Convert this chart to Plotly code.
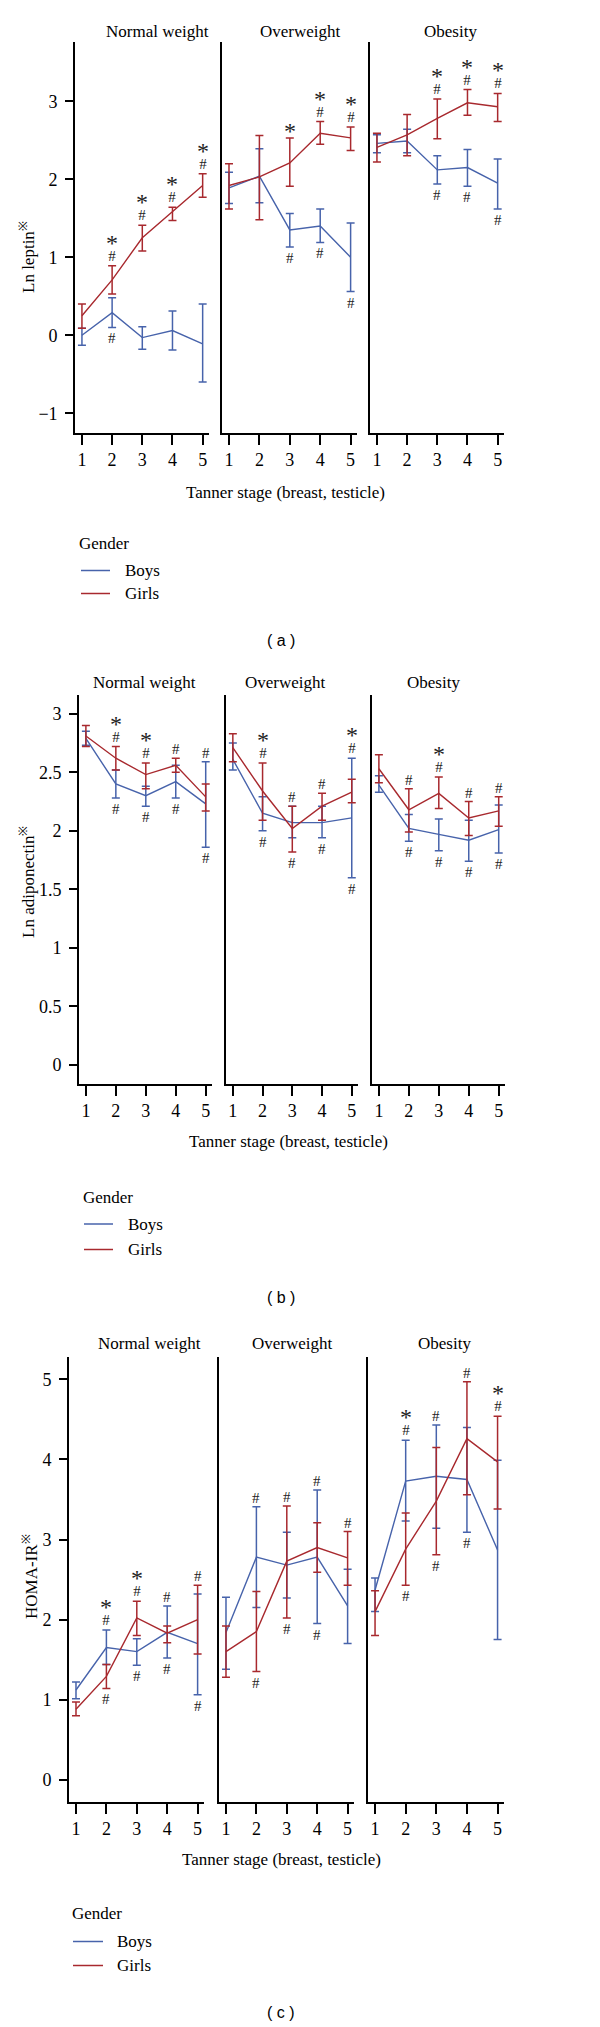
import plotly.graph_objects as go

# ---------------- data ----------------
STAGES = [1, 2, 3, 4, 5]
GROUPS = ["Normal weight", "Overweight", "Obesity"]
GENDERS = ["Boys", "Girls"]

# (a) Ln leptin: means and CI bounds, one list per weight group
leptin_boys = [[0.00, 0.29, -0.03, 0.06, -0.11], [1.89, 2.04, 1.35, 1.40, 1.00], [2.46, 2.49, 2.12, 2.15, 1.95]]
leptin_boys_hi = [[0.09, 0.48, 0.11, 0.31, 0.40], [2.09, 2.39, 1.56, 1.62, 1.44], [2.57, 2.64, 2.30, 2.38, 2.26]]
leptin_boys_lo = [[-0.13, 0.10, -0.18, -0.19, -0.60], [1.69, 1.70, 1.13, 1.19, 0.56], [2.34, 2.34, 1.94, 1.91, 1.62]]
leptin_girls = [[0.25, 0.71, 1.25, 1.58, 1.92], [1.92, 2.03, 2.21, 2.59, 2.53], [2.41, 2.57, 2.78, 2.98, 2.93]]
leptin_girls_hi = [[0.40, 0.89, 1.41, 1.64, 2.07], [2.20, 2.56, 2.53, 2.74, 2.67], [2.59, 2.83, 3.03, 3.15, 3.10]]
leptin_girls_lo = [[0.09, 0.53, 1.08, 1.47, 1.77], [1.62, 1.48, 1.91, 2.45, 2.37], [2.22, 2.30, 2.52, 2.82, 2.74]]
leptin_sig_above = [["", "#*", "#*", "#*", "#*"], ["", "", "*", "#*", "#*"], ["", "", "#*", "#*", "#*"]]
leptin_sig_below = [["", "#", "", "", ""], ["", "", "#", "#", "#"], ["", "", "#", "#", "#"]]

# (b) Ln adiponectin
adipo_boys = [[2.79, 2.40, 2.30, 2.42, 2.23], [2.61, 2.15, 2.07, 2.07, 2.11], [2.39, 2.02, 1.97, 1.92, 2.01]]
adipo_boys_hi = [[2.85, 2.52, 2.38, 2.56, 2.59], [2.75, 2.29, 2.21, 2.21, 2.62], [2.47, 2.14, 2.10, 2.09, 2.22]]
adipo_boys_lo = [[2.73, 2.28, 2.21, 2.28, 1.86], [2.52, 2.00, 1.94, 1.94, 1.60], [2.33, 1.91, 1.83, 1.74, 1.81]]
adipo_girls = [[2.81, 2.62, 2.48, 2.56, 2.29], [2.71, 2.34, 2.02, 2.21, 2.33], [2.53, 2.18, 2.32, 2.11, 2.17]]
adipo_girls_hi = [[2.90, 2.72, 2.58, 2.62, 2.40], [2.83, 2.58, 2.21, 2.32, 2.44], [2.65, 2.36, 2.46, 2.25, 2.29]]
adipo_girls_lo = [[2.72, 2.52, 2.36, 2.50, 2.17], [2.59, 2.09, 1.82, 2.09, 2.24], [2.41, 1.99, 2.19, 1.96, 2.04]]
adipo_sig_above = [["", "#*", "#*", "#", "#"], ["", "#*", "#", "#", "#*"], ["", "#", "#*", "#", "#"]]
adipo_sig_below = [["", "#", "#", "#", "#"], ["", "#", "#", "#", "#"], ["", "#", "#", "#", "#"]]

# (c) HOMA-IR
homa_boys = [[1.12, 1.65, 1.60, 1.84, 1.70], [1.84, 2.78, 2.68, 2.78, 2.17], [2.37, 3.73, 3.79, 3.75, 2.87]]
homa_boys_hi = [[1.22, 1.87, 1.76, 2.17, 2.32], [2.28, 3.41, 3.09, 3.62, 2.63], [2.52, 4.24, 4.43, 4.40, 3.99]]
homa_boys_lo = [[1.01, 1.44, 1.43, 1.52, 1.06], [1.38, 2.15, 2.27, 1.95, 1.70], [2.10, 3.23, 3.14, 3.09, 1.75]]
homa_girls = [[0.88, 1.29, 2.02, 1.83, 2.00], [1.60, 1.85, 2.73, 2.90, 2.77], [2.10, 2.88, 3.48, 4.26, 3.97]]
homa_girls_hi = [[0.97, 1.44, 2.23, 1.92, 2.43], [1.92, 2.35, 3.42, 3.21, 3.10], [2.36, 3.33, 4.15, 4.97, 4.54]]
homa_girls_lo = [[0.80, 1.14, 1.80, 1.71, 1.57], [1.28, 1.35, 2.02, 2.59, 2.43], [1.80, 2.43, 2.81, 3.56, 3.38]]
homa_sig_above = [["", "#*", "#*", "#", "#"], ["", "#", "#", "#", "#"], ["", "#*", "#", "#", "#*"]]
homa_sig_below = [["", "#", "#", "#", "#"], ["", "#", "#", "#", ""], ["", "#", "#", "#", ""]]

Y_TITLES = ["Ln leptin<sup>※</sup>", "Ln adiponectin<sup>※</sup>", "HOMA-IR<sup>※</sup>"]
Y_TICKS = [[-1, 0, 1, 2, 3], [0, 0.5, 1, 1.5, 2, 2.5, 3], [0, 1, 2, 3, 4, 5]]
X_TITLE = "Tanner stage (breast, testicle)"
LEGEND_TITLE = "Gender"
PANEL_LABELS = ["( a )", "( b )", "( c )"]

# ---------------- style / layout ----------------
W, H = 600, 2027
BLUE = "#4763ab"
RED = "#a8292e"
MARK = "#222222"
SERIF = "Liberation Serif, Times New Roman, serif"
SANS = "Liberation Sans, Arial, sans-serif"
FS = 17
TICK_FS = 18
HASH_FS = 15
STAR_FS = 24
STACK_TEXT = ("<span style='font-size:%dpx'>*</span><br><span style='font-size:%dpx'>#</span>"
              % (STAR_FS, HASH_FS))


def fx(px):
    return px / W


def fy(py):
    return 1 - py / H


ROWS = [
    dict(xdom=[(75, 209), (222, 357), (370, 504)], ydom=(42, 432.7), yrange=[-1.25, 3.76],
         titles=[(158, 31), (300, 31), (450, 31)], xtitle=(285, 492), ytitle=(27, 257), label=(281, 640),
         leg_title=(79, 543), leg_line=(81, 110), leg_text=125, leg_rows=(570.5, 593.5)),
    dict(xdom=[(79, 212), (226, 358), (372, 505)], ydom=(695, 1083.7), yrange=[-0.16, 3.16],
         titles=[(144, 683), (285, 683), (433, 683)], xtitle=(288, 1141), ytitle=(27, 882), label=(281, 1297),
         leg_title=(83, 1197.5), leg_line=(84, 113), leg_text=128, leg_rows=(1224, 1249.5)),
    dict(xdom=[(69, 204), (219, 354), (368, 504)], ydom=(1357, 1801.7), yrange=[-0.275, 5.28],
         titles=[(149, 1343), (292, 1343), (444, 1343)], xtitle=(281, 1859), ytitle=(30, 1577), label=(281, 2012),
         leg_title=(72, 1913), leg_line=(73, 103), leg_text=117, leg_rows=(1941.5, 1965.5)),
]

DATA = [
    (leptin_boys, leptin_boys_hi, leptin_boys_lo, leptin_girls, leptin_girls_hi, leptin_girls_lo,
     leptin_sig_above, leptin_sig_below),
    (adipo_boys, adipo_boys_hi, adipo_boys_lo, adipo_girls, adipo_girls_hi, adipo_girls_lo,
     adipo_sig_above, adipo_sig_below),
    (homa_boys, homa_boys_hi, homa_boys_lo, homa_girls, homa_girls_hi, homa_girls_lo,
     homa_sig_above, homa_sig_below),
]

fig = go.Figure()
annotations, shapes = [], []
layout = dict(width=W, height=H, margin=dict(l=0, r=0, t=0, b=0),
              paper_bgcolor="white", plot_bgcolor="white", showlegend=False)

ax_idx = 0
for r, (row, data) in enumerate(zip(ROWS, DATA)):
    b_m, b_hi, b_lo, g_m, g_hi, g_lo, sig_up, sig_dn = data
    for c in range(3):
        ax_idx += 1
        sfx = "" if ax_idx == 1 else str(ax_idx)
        xa, ya = "x" + sfx, "y" + sfx
        x0, x1 = row["xdom"][c]
        y0, y1 = row["ydom"]
        layout["xaxis" + sfx] = dict(
            domain=[fx(x0), fx(x1)], range=[0.77, 5.21], anchor=ya,
            tickvals=STAGES, ticktext=[str(s) for s in STAGES],
            ticks="outside", ticklen=10, tickwidth=1.5, tickcolor="black",
            showline=True, linecolor="black", linewidth=1.6, showgrid=False, zeroline=False,
            tickfont=dict(family=SERIF, size=TICK_FS, color="black"), fixedrange=True)
        first = c == 0
        layout["yaxis" + sfx] = dict(
            domain=[fy(y1), fy(y0)], range=row["yrange"], anchor=xa,
            tickvals=Y_TICKS[r] if first else [], ticks="outside" if first else "",
            ticklen=8, tickwidth=1.5, tickcolor="black", showticklabels=first,
            ticklabelstandoff=4,
            showline=True, linecolor="black", linewidth=1.6, showgrid=False, zeroline=False,
            tickfont=dict(family=SERIF, size=TICK_FS, color="black"), fixedrange=True)

        for name, col, m, hi, lo in [("Boys", BLUE, b_m[c], b_hi[c], b_lo[c]),
                                     ("Girls", RED, g_m[c], g_hi[c], g_lo[c])]:
            fig.add_trace(go.Scatter(
                x=STAGES, y=m, mode="lines", name=name, xaxis=xa, yaxis=ya,
                line=dict(color=col, width=1.4),
                error_y=dict(type="data", symmetric=False,
                             array=[h - v for h, v in zip(hi, m)],
                             arrayminus=[v - l for v, l in zip(m, lo)],
                             color=col, thickness=1.5, width=4)))

        # significance markers (# and *) stacked above the highest / below the lowest bound
        for k, s in enumerate(STAGES):
            top = max(b_hi[c][k], g_hi[c][k])
            bot = min(b_lo[c][k], g_lo[c][k])
            up = sig_up[c][k]
            if "#" in up and "*" in up:
                annotations.append(dict(
                    x=s, y=top, xref=xa, yref=ya, text=STACK_TEXT, showarrow=False,
                    yanchor="bottom", yshift=0, font=dict(family=SERIF, size=8, color=MARK)))
            elif "#" in up:
                annotations.append(dict(
                    x=s, y=top, xref=xa, yref=ya, text="#", showarrow=False,
                    yanchor="middle", yshift=9, font=dict(family=SERIF, size=HASH_FS, color=MARK)))
            elif "*" in up:
                annotations.append(dict(
                    x=s, y=top, xref=xa, yref=ya, text="*", showarrow=False,
                    yanchor="middle", yshift=7, font=dict(family=SERIF, size=STAR_FS, color=MARK)))
            if "#" in sig_dn[c][k]:
                annotations.append(dict(
                    x=s, y=bot, xref=xa, yref=ya, text="#", showarrow=False,
                    yanchor="middle", yshift=-11, font=dict(family=SERIF, size=HASH_FS, color=MARK)))

        tx, ty = row["titles"][c]
        annotations.append(dict(
            x=fx(tx), y=fy(ty), xref="paper", yref="paper", text=GROUPS[c], showarrow=False,
            xanchor="center", yanchor="middle", font=dict(family=SERIF, size=FS, color="black")))

    xt = row["xtitle"]
    annotations.append(dict(
        x=fx(xt[0]), y=fy(xt[1]), xref="paper", yref="paper", text=X_TITLE, showarrow=False,
        xanchor="center", yanchor="middle", font=dict(family=SERIF, size=FS, color="black")))
    yt = row["ytitle"]
    annotations.append(dict(
        x=fx(yt[0]), y=fy(yt[1]), xref="paper", yref="paper", text=Y_TITLES[r], showarrow=False,
        textangle=-90, xanchor="center", yanchor="middle", font=dict(family=SERIF, size=FS, color="black")))
    lb = row["label"]
    annotations.append(dict(
        x=fx(lb[0]), y=fy(lb[1]), xref="paper", yref="paper", text=PANEL_LABELS[r], showarrow=False,
        xanchor="center", yanchor="middle", font=dict(family=SANS, size=16, color="black")))

    # legend (Gender: Boys / Girls)
    lt = row["leg_title"]
    annotations.append(dict(
        x=fx(lt[0]), y=fy(lt[1]), xref="paper", yref="paper", text=LEGEND_TITLE, showarrow=False,
        xanchor="left", yanchor="middle", xshift=-2, font=dict(family=SERIF, size=FS, color="black")))
    for name, col, ly in zip(GENDERS, [BLUE, RED], row["leg_rows"]):
        shapes.append(dict(type="line", xref="paper", yref="paper",
                           x0=fx(row["leg_line"][0]), x1=fx(row["leg_line"][1]), y0=fy(ly), y1=fy(ly),
                           line=dict(color=col, width=1.5)))
        annotations.append(dict(
            x=fx(row["leg_text"]), y=fy(ly), xref="paper", yref="paper", text=name, showarrow=False,
            xanchor="left", yanchor="middle", xshift=-2, font=dict(family=SERIF, size=FS, color="black")))

layout["annotations"] = annotations
layout["shapes"] = shapes
fig.update_layout(**layout)
fig.write_html("out.html", config={"displayModeBar": False},
               post_script="document.body.style.margin='0';document.body.style.overflow='hidden';")
